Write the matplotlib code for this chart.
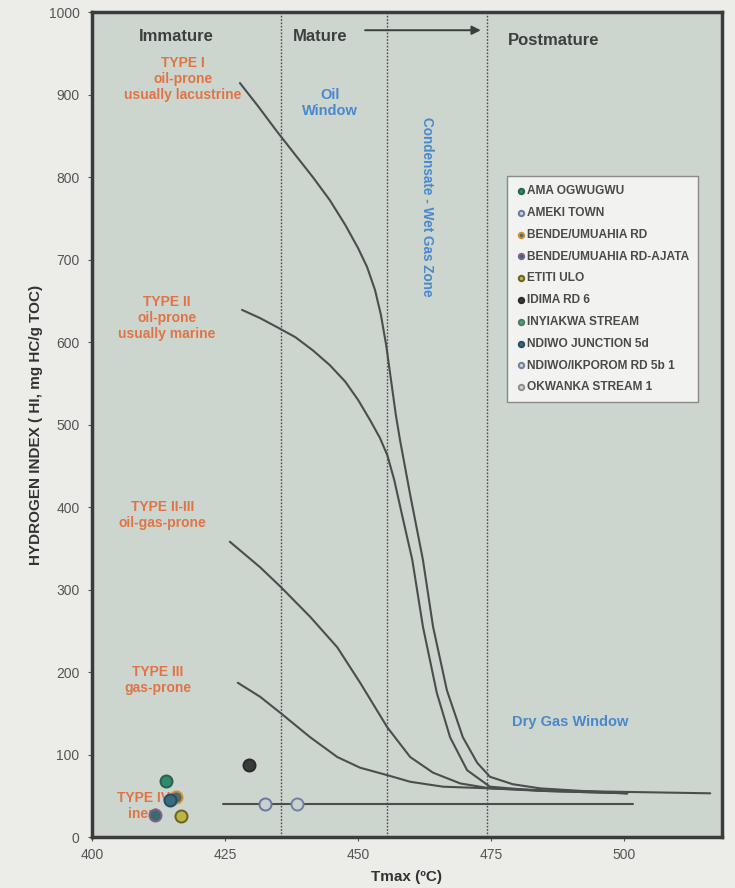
import matplotlib
matplotlib.use("Agg")
import matplotlib.pyplot as plt
import numpy as np

plt.rcParams['font.family'] = ['Liberation Sans', 'DejaVu Sans']

# ---- curve data (Tmax, HI) ----
type1_T = [427.8, 431.2, 434.8, 438.2, 441.5, 444.7, 447.6, 450.0, 451.7, 453.2, 454.3, 455.3,
           456.2, 457.1, 457.9, 459.8, 462.2, 464.1, 466.7, 469.7, 472.4, 474.8, 479.1, 484.2,
           491.7, 500.6]
type1_HI = [914, 886, 855, 827, 800, 772, 742, 714, 691, 663, 633, 596,
            554, 512, 481, 415, 336, 255, 178, 121, 90, 73, 64, 59,
            56, 53]

type2_T = [428.2, 431.6, 434.8, 438.2, 441.5, 444.7, 447.6, 450.0, 452.3, 454.1, 455.5, 456.8,
           458.5, 460.2, 462.2, 463.5, 464.8, 467.3, 470.5, 474.8, 484.2, 500.6]
type2_HI = [639, 629, 618, 606, 590, 572, 552, 530, 505, 484, 463, 433,
            384, 336, 255, 215, 175, 121, 81, 61, 56, 53]

type23_T = [425.9, 431.6, 435.5, 441.0, 446.1, 450.4, 455.5, 459.8, 464.1, 469.2, 474.8, 484.2, 500.6]
type23_HI = [358, 327, 303, 267, 230, 187, 133, 97, 78, 65, 59, 56, 53]

type3_T = [427.4, 431.6, 435.5, 441.0, 446.1, 450.4, 455.5, 459.8, 466.0, 474.8, 488.0, 516.2]
type3_HI = [187, 170, 150, 121, 97, 84, 75, 67, 61, 59, 56, 53]

type4_T = [424.6, 501.7]
type4_HI = [40, 40]

zone_bounds = [435.5, 455.4, 474.2]

# ---- sample points ----
samples = ["AMA OGWUGWU", "AMEKI TOWN", "BENDE/UMUAHIA RD", "BENDE/UMUAHIA RD-AJATA",
           "ETITI ULO", "IDIMA RD 6", "INYIAKWA STREAM", "NDIWO JUNCTION 5d",
           "NDIWO/IKPOROM RD 5b 1", "OKWANKA STREAM 1"]
sample_T = [413.9, 432.5, 415.8, 411.8, 416.7, 429.5, np.nan, 414.7, 438.5, np.nan]
sample_HI = [68, 40, 48, 27, 25, 87, np.nan, 45, 40, np.nan]
sample_face = ["#2f8a6a", "#c8d0d0", "#4a6a70", "#3a6a6a", "#b8b840", "#3a3a3a",
               "#5a9a70", "#3a6a80", "#c8d0d0", "#d0d4d4"]
sample_edge = ["#2a6050", "#6878a0", "#d09030", "#806090", "#706020", "#2a2a2a",
               "#4a7a60", "#2a4a60", "#7080a0", "#8a9090"]

fig = plt.figure(figsize=(7.35, 8.88), dpi=100, facecolor="#ecece9")
ax = fig.add_axes([0.1252, 0.0574, 0.857, 0.929])
ax.set_facecolor("#cdd5cf")
ax.set_xlim(400, 518.4)
ax.set_ylim(0, 1000)

curve_kw = dict(color="#4a4e4c", lw=1.5, solid_capstyle="round", solid_joinstyle="round")
for T, H in [(type1_T, type1_HI), (type2_T, type2_HI), (type23_T, type23_HI),
             (type3_T, type3_HI), (type4_T, type4_HI)]:
    ax.plot(T, H, **curve_kw, zorder=3)

for xb in zone_bounds:
    ax.axvline(xb, color="#4a4e4c", lw=1.0, ls=(0, (1.2, 1.2)), zorder=2)

# arrow in mature zone
ax.annotate("", xy=(473.6, 978), xytext=(450.8, 978),
            arrowprops=dict(arrowstyle="-|>", color="#3a3e3c", lw=1.4, mutation_scale=13), zorder=4)

# zone titles
zt = dict(fontsize=12, fontweight="bold", color="#3e403f", ha="center", va="center")
ax.text(415.8, 970, "Immature", **zt)
ax.text(442.9, 970, "Mature", **zt)
ax.text(486.8, 966, "Postmature", **zt)

# kerogen type labels
ot = dict(fontsize=10, fontweight="bold", color="#e07446", ha="center", va="center", linespacing=1.2)
ax.text(417.1, 919, "TYPE I\noil-prone\nusually lacustrine", **ot)
ax.text(414.1, 629, "TYPE II\noil-prone\nusually marine", **ot)
ax.text(413.3, 390, "TYPE II-III\noil-gas-prone", **ot)
ax.text(412.4, 190, "TYPE III\ngas-prone", **ot)
ax.text(409.6, 38, "TYPE IV\ninert", zorder=2, **ot)

bt = dict(fontsize=10.5, fontweight="bold", color="#4a88cc", ha="center", va="center")
ax.text(444.7, 890, "Oil\nWindow", linespacing=1.2, **bt)
ax.text(463.0, 764, "Condensate - Wet Gas Zone", rotation=-90,
        **{**bt, "fontsize": 9.8})
ax.text(489.8, 139, "Dry Gas Window", **bt)

handles = []
for i, name in enumerate(samples):
    h = ax.scatter([sample_T[i]], [sample_HI[i]], s=75, c=sample_face[i],
                   edgecolors=sample_edge[i], linewidths=1.4, zorder=5, label=name)
    handles.append(h)

leg = ax.legend(handles=handles, loc="upper left", bbox_to_anchor=(0.659, 0.801),
                frameon=True, fancybox=False, fontsize=8.6, handletextpad=0.0,
                handlelength=0.9, markerscale=0.45, labelspacing=0.82,
                borderpad=0.75, borderaxespad=0.0, labelcolor="#4a4a4a")
leg.get_frame().set_facecolor("#f2f2f0")
leg.get_frame().set_edgecolor("#8a8a8a")
leg.get_frame().set_linewidth(1.0)
leg.get_frame().set_alpha(1.0)
for t in leg.get_texts():
    t.set_fontweight("bold")

for sp in ax.spines.values():
    sp.set_linewidth(2.5)
    sp.set_color("#3a3c3b")

ax.set_xticks([400, 425, 450, 475, 500])
ax.set_yticks(np.arange(0, 1001, 100))
ax.tick_params(axis="both", labelsize=10, colors="#555555", length=3, width=0.8)
ax.tick_params(axis="x", pad=5)
ax.tick_params(axis="y", pad=6)
ax.set_xlabel("Tmax (ºC)", fontsize=11, fontweight="bold", color="#333333", labelpad=6)
ax.set_ylabel("HYDROGEN INDEX ( HI, mg HC/g TOC)", fontsize=11, fontweight="bold",
              color="#333333", labelpad=4)

fig.savefig("out.png", dpi=100, facecolor=fig.get_facecolor())
